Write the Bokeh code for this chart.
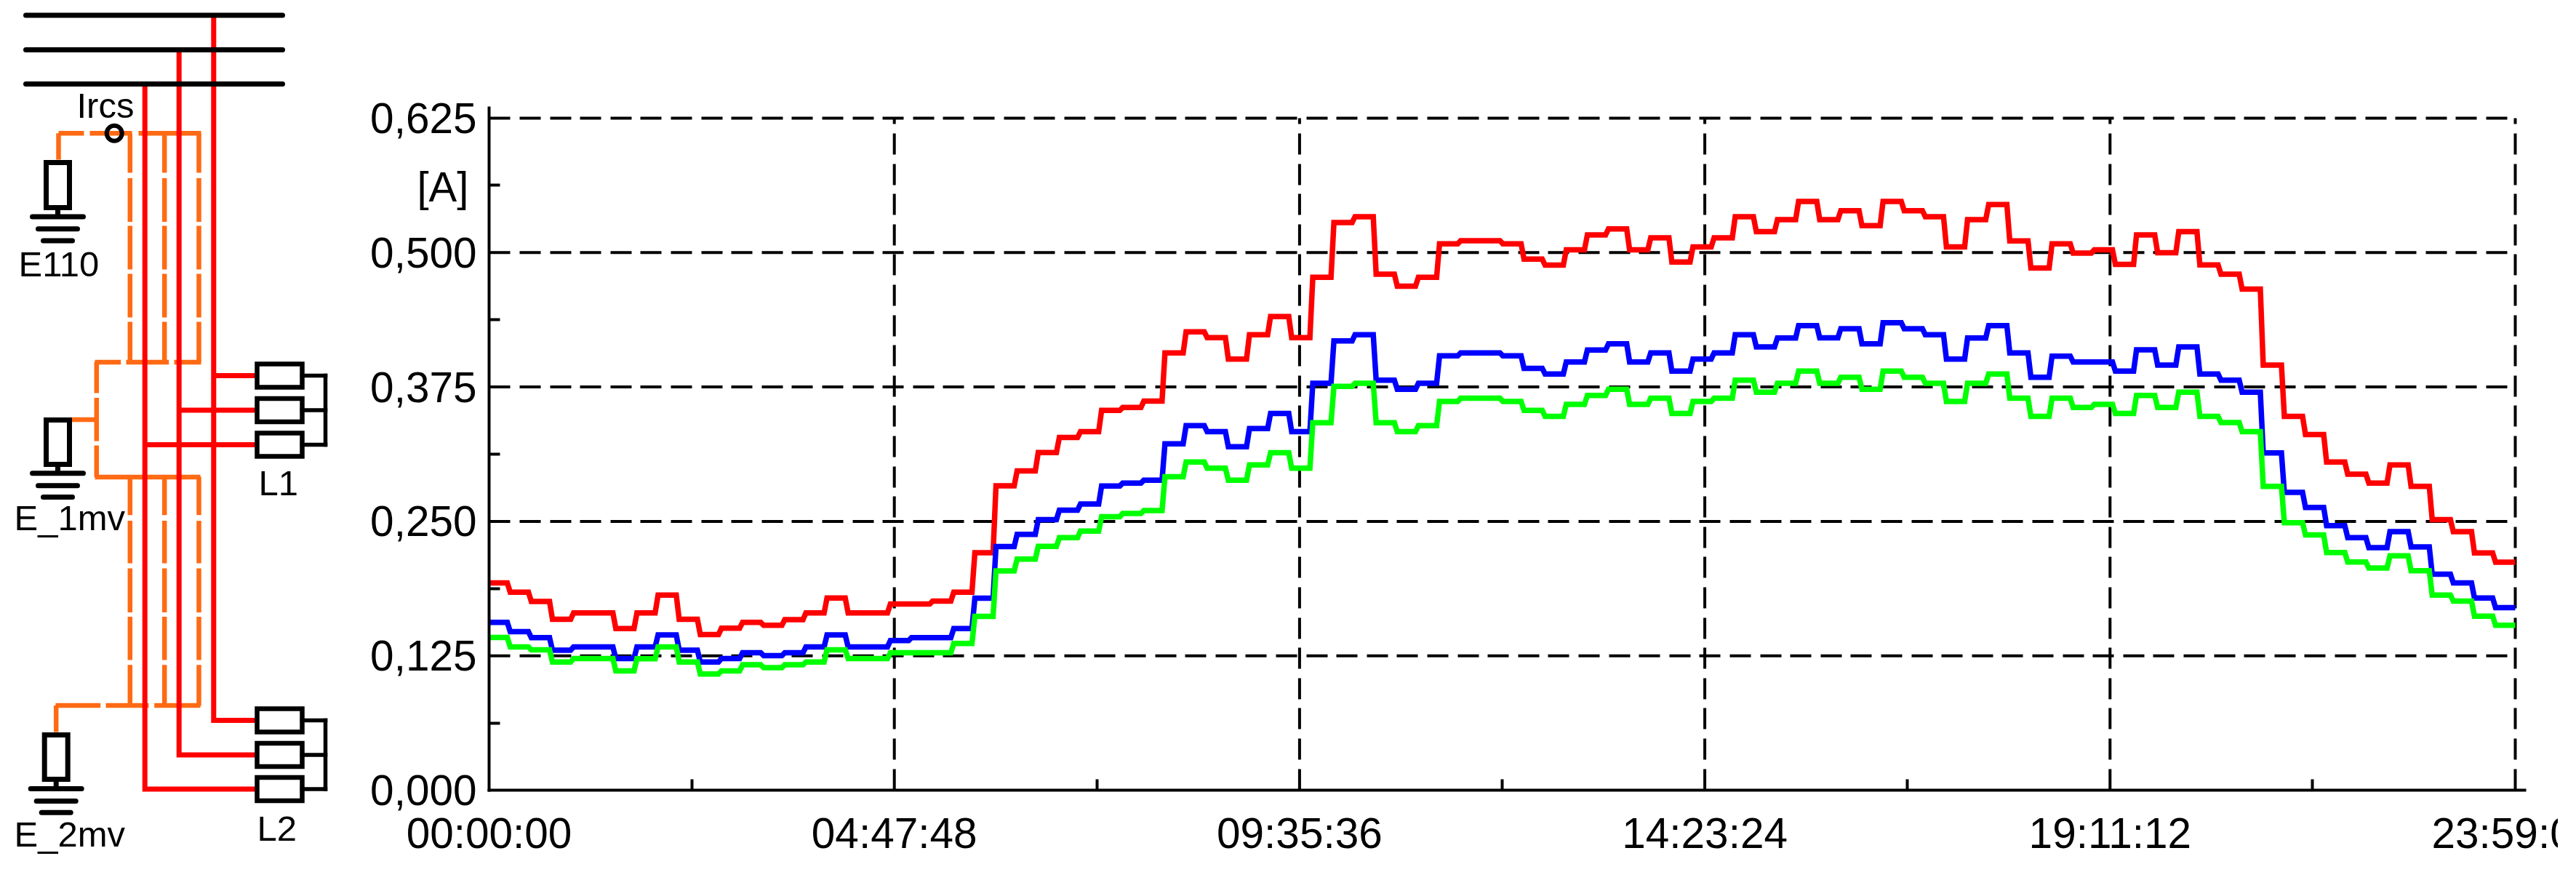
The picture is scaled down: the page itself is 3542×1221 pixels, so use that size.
from bokeh.embed import file_html
from bokeh.resources import INLINE
from bokeh.plotting import figure
from bokeh.models import ColumnDataSource, FixedTicker, Range1d
from bokeh.core.properties import value

# ---------- chart data ----------
red = [.1927,.1841,.1755,.1589,.1648,.1648,.1503,.1648,.1814,.1589,
       .1447,.1506,.1560,.1533,.1586,.1648,.1787,.1648,.1648,.1731,
       .1731,.1758,.1841,.2208,.2831,.2969,.3140,.3280,.3334,.3532,
       .3559,.3618,.4067,.4263,.4209,.4010,.4236,.4405,.4209,.4770,
       .5280,.5334,.4799,.4687,.4770,.5081,.5111,.5111,.5081,.4939,
       .4883,.5025,.5165,.5221,.5025,.5138,.4912,.5052,.5138,.5334,
       .5194,.5307,.5476,.5307,.5390,.5250,.5476,.5390,.5334,.5052,
       .5307,.5447,.5108,.4856,.5081,.4996,.5025,.4890,.5165,.4998,
       .5194,.4885,.4799,.4660,.3954,.3476,.3307,.3052,.2939,.2856,
       .3025,.2826,.2517,.2405,.2206,.2120]
blue = [.1560,.1474,.1418,.1302,.1332,.1332,.1225,.1332,.1444,.1302,
        .1192,.1225,.1278,.1251,.1278,.1332,.1444,.1332,.1332,.1391,
        .1418,.1418,.1503,.1785,.2266,.2380,.2517,.2605,.2661,.2829,
        .2856,.2883,.3221,.3390,.3334,.3194,.3363,.3503,.3334,.3785,
        .4179,.4236,.3814,.3728,.3785,.4039,.4067,.4067,.4039,.3924,
        .3870,.3983,.4094,.4152,.3983,.4067,.3897,.4010,.4067,.4236,
        .4123,.4206,.4321,.4208,.4292,.4152,.4348,.4292,.4236,.4010,
        .4206,.4321,.4067,.3841,.4037,.3983,.3983,.3897,.4096,.3954,
        .4123,.3870,.3814,.3701,.3137,.2770,.2630,.2461,.2348,.2256,
        .2405,.2263,.2009,.1928,.1788,.1698]
green = [.1420,.1332,.1305,.1192,.1225,.1225,.1109,.1222,.1332,.1192,
         .1080,.1109,.1166,.1139,.1166,.1192,.1305,.1225,.1225,.1278,
         .1278,.1278,.1364,.1616,.2039,.2150,.2267,.2348,.2409,.2544,
         .2573,.2600,.2916,.3052,.2995,.2883,.3025,.3138,.2995,.3417,
         .3755,.3785,.3417,.3334,.3390,.3616,.3645,.3645,.3616,.3532,
         .3476,.3589,.3672,.3728,.3589,.3645,.3503,.3616,.3645,.3814,
         .3701,.3785,.3897,.3785,.3841,.3728,.3897,.3841,.3785,.3616,
         .3785,.3870,.3645,.3476,.3645,.3559,.3589,.3503,.3672,.3559,
         .3701,.3476,.3419,.3334,.2826,.2488,.2375,.2210,.2122,.2066,
         .2179,.2041,.1815,.1759,.1619,.1534]

SAMPLE_SECONDS = 900
END_SECONDS = 86340
x_ticks = [0, 17268, 34536, 51804, 69072, 86340]
x_labels = ["00:00:00", "04:47:48", "09:35:36", "14:23:24", "19:11:12", "23:59:00"]
x_minor = [8634, 25902, 43170, 60438, 77706]
y_ticks = [0.0, 0.125, 0.25, 0.375, 0.5, 0.625]
y_labels = ["0,000", "0,125", "0,250", "0,375", "0,500", "0,625"]
y_minor = [0.0625, 0.1875, 0.3125, 0.4375, 0.5625]
unit_label = "[A]"

FONT = "Liberation Sans"
DASH = "29 13 29 13 29 12 29 13 29 12"

# pixel geometry of the picture
W, H = 3517, 1205     # figure size
AX_LEFT, AX_BOTTOM = 672, 1086
AX_END_X, AX_END_Y = 3471, 148
PX_PER_S = (3458 - AX_LEFT) / END_SECONDS
PX_PER_A = (AX_BOTTOM - 162) / 0.625
SLANT = 4 / PX_PER_S
BASE_SHIFT = 0.36     # em, lifts glyph text onto its measured baseline


def sec(px):
    return (px - AX_LEFT) / PX_PER_S


def amp(py):
    return (AX_BOTTOM - py) / PX_PER_A


def staircase(values):
    xs, ys = [0], [values[0]]
    for k in range(1, len(values)):
        t = k * SAMPLE_SECONDS
        xs += [t - SLANT, t]
        ys += [values[k - 1], values[k]]
    xs.append(END_SECONDS)
    ys.append(values[-1])
    return xs, ys


p = figure(width=W, height=H,
           x_range=Range1d(sec(0), sec(W)), y_range=Range1d(amp(H), amp(0)),
           output_backend="svg", toolbar_location=None, min_border=0,
           outline_line_color=None, background_fill_color="white", border_fill_color="white")
p.grid.visible = False
p.extra_x_ranges["px"] = Range1d(0, W)
p.extra_y_ranges["px"] = Range1d(H, 0)
PX = dict(x_range_name="px", y_range_name="px")

# ---------- schematic (picture pixel coordinates) ----------
ORANGE = "#ff6a14"
bus_y = [20.6, 68, 115]
bus_x = (35, 388)
red_x = [293.3, 245.7, 198.7]
red_top = [20, 68, 115]
red_bottom = [990, 1037.5, 1084.5]
l1_y = [516, 563.5, 611]
l2_y = [990, 1037.5, 1084.5]
box_left, box_right, box_half = 353, 415, 16
conn_x = 447
o_x = [178.3, 225.7, 273]
o_upper = [(183, 237), (244.5, 304.5), (310, 370), (376, 436), (442, 497)]
o_lower = [(655, 707.7), (715.6, 774), (781, 841.6), (847.5, 907), (913.7, 970)]
o_paths = [
    ([80, 80], [219, 182.7]), ([80, 115], [182.7, 182.7]), ([123, 181], [182.7, 182.7]),
    ([190, 276], [182.7, 182.7]),
    ([130, 165.7], [497.4, 497.4]), ([173, 231.7], [497.4, 497.4]), ([239, 276], [497.4, 497.4]),
    ([132.3, 132.3], [497, 540]), ([132.3, 132.3], [546.5, 606]), ([132.3, 132.3], [612, 655.4]),
    ([130, 275], [655.4, 655.4]), ([98, 132], [576.5, 576.5]),
    ([76, 137.7], [969.5, 969.5]), ([145, 204], [969.5, 969.5]), ([211.7, 275], [969.5, 969.5]),
    ([76.7, 76.7], [969.5, 1006]),
]
ground_sets = [
    (79, 223, 285, [297.4, 314.3, 330.6]),
    (79, 577, 638, [650.3, 667.3, 683]),
    (76.7, 1010, 1071, [1084, 1101, 1116.8]),
]
ground_half = [35, 27, 20]
box_half_w = 16
sensor_xy = (156.7, 182.7)
notes = [("Ircs", 105, 162), ("E110", 25, 380), ("E_1mv", 19, 728.7), ("L1", 355, 681),
         ("L2", 353, 1156.4), ("E_2mv", 19, 1164.4)]

o_xs, o_ys = [], []
for x in o_x:
    for y0, y1 in o_upper + o_lower:
        o_xs.append([x, x])
        o_ys.append([y0, y1])
for px, py in o_paths:
    o_xs.append(px)
    o_ys.append(py)
p.multi_line(o_xs, o_ys, line_color=ORANGE, line_width=6.5, line_join="miter", **PX)

r_xs, r_ys = [], []
for x, t, b, y1 in zip(red_x, red_top, red_bottom, l1_y):
    r_xs += [[x, x, box_left], [x, box_left]]
    r_ys += [[t, b, b], [y1, y1]]
p.multi_line(r_xs, r_ys, line_color="#ff0000", line_width=7, line_join="miter", **PX)

p.multi_line([list(bus_x)] * 3, [[y, y] for y in bus_y], line_color="black", line_width=7,
             line_cap="round", **PX)

all_y = l1_y + l2_y
p.quad(left=[box_left] * 6, right=[box_right] * 6,
       top=[y - box_half for y in all_y], bottom=[y + box_half for y in all_y],
       fill_color="white", line_color="black", line_width=6.5, line_join="miter", **PX)
k_xs, k_ys = [], []
for group in (l1_y, l2_y):
    for y in group:
        k_xs.append([box_right, conn_x])
        k_ys.append([y, y])
    k_xs.append([conn_x, conn_x])
    k_ys.append([group[0], group[-1]])
p.multi_line(k_xs, k_ys, line_color="black", line_width=5.5, line_cap="square", **PX)

for cx, top, bot, bars in ground_sets:
    p.quad(left=[cx - box_half_w], right=[cx + box_half_w], top=[top], bottom=[bot],
           fill_color="white", line_color="black", line_width=7, line_join="miter", **PX)
    p.line([cx, cx], [bot, bars[0]], line_color="black", line_width=7, **PX)
    p.multi_line([[cx - h, cx + h] for h in ground_half], [[y, y] for y in bars],
                 line_color="black", line_width=7, line_cap="round", **PX)

p.circle(x=[sensor_xy[0]], y=[sensor_xy[1]], radius=10.5, fill_color=None,
         line_color="black", line_width=6, **PX)

src = ColumnDataSource(dict(t=[n[0] for n in notes], x=[n[1] for n in notes], y=[n[2] for n in notes]))
p.text(x="x", y="y", text="t", source=src, text_font=value(FONT), text_font_size=value("49px"),
       text_color="black", text_align="left", text_baseline="alphabetic",
       y_offset=-BASE_SHIFT * 49, **PX)

# ---------- chart ----------
p.segment(x0=[0] * 5, y0=y_ticks[1:], x1=[END_SECONDS] * 5, y1=y_ticks[1:],
          line_color="black", line_width=4, line_dash=DASH)
p.segment(x0=x_ticks[1:], y0=[0] * 5, x1=x_ticks[1:], y1=[0.625] * 5,
          line_color="black", line_width=4, line_dash=DASH)

for vals, col in ((red, "#ff0000"), (blue, "#0000ff"), (green, "#00ff00")):
    xs, ys = staircase(vals)
    p.line(xs, ys, line_color=col, line_width=7.5, line_join="miter")

for ax, ticks, minor, labels, bnds in (
    (p.xaxis[0], x_ticks[:-1], x_minor, x_labels[:-1], (0, sec(AX_END_X))),
    (p.yaxis[0], y_ticks, y_minor, y_labels, (0, amp(AX_END_Y))),
):
    ax.fixed_location = 0
    ax.bounds = bnds
    ax.ticker = FixedTicker(ticks=ticks, minor_ticks=minor)
    ax.major_label_overrides = {t: s for t, s in zip(ticks, labels)}
    ax.axis_line_width = 4
    ax.axis_line_color = "black"
    ax.axis_line_cap = "square"
    ax.major_tick_in = 0
    ax.major_tick_out = 0
    ax.minor_tick_in = 15
    ax.minor_tick_out = 0
    ax.minor_tick_line_width = 4
    ax.minor_tick_line_color = "black"
    ax.major_label_text_font = FONT
    ax.major_label_text_font_size = "58.5px"
    ax.major_label_text_color = "black"
p.yaxis[0].major_label_standoff = 17
p.xaxis[0].major_label_standoff = 26

# the unit, and the last time label that the picture's edge cuts off
p.text(x=[sec(573)], y=[amp(277)], text=[unit_label], text_font=value(FONT),
       text_font_size=value("58px"), text_color="black", text_align="left",
       text_baseline="alphabetic", y_offset=-BASE_SHIFT * 58)
p.text(x=[sec(3343)], y=[amp(1166)], text=[x_labels[-1]], text_font=value(FONT),
       text_font_size=value("58.5px"), text_color="black", text_align="left",
       text_baseline="alphabetic", y_offset=-BASE_SHIFT * 58.5)

open("out.html", "w").write(file_html(p, INLINE))
